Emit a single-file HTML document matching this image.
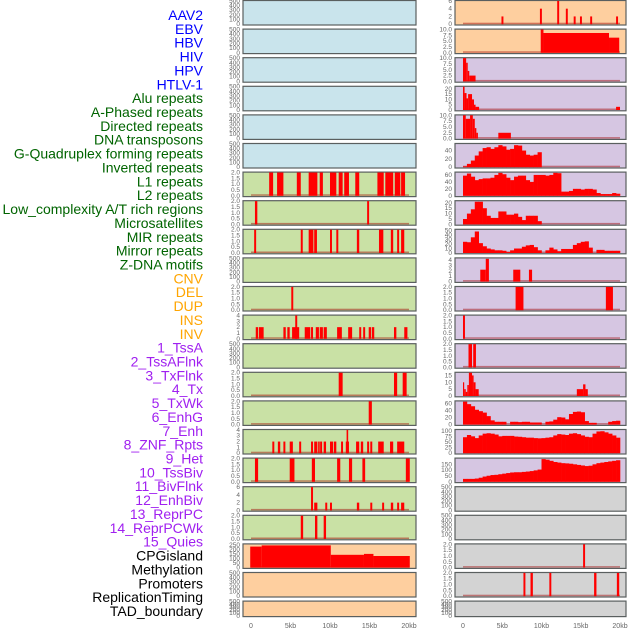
<!DOCTYPE html>
<html><head><meta charset="utf-8"><style>
html,body{margin:0;padding:0;background:#fff;}
svg{display:block;font-family:"Liberation Sans",sans-serif;}
</style></head><body>
<svg id="chart" width="630" height="630" viewBox="0 0 630 630"></svg>
<script>
// ---- labels ----
const trackLabels = ["AAV2","EBV","HBV","HIV","HPV","HTLV-1","Alu repeats","A-Phased repeats","Directed repeats","DNA transposons","G-Quadruplex forming repeats","Inverted repeats","L1 repeats","L2 repeats","Low_complexity A/T rich regions","Microsatellites","MIR repeats","Mirror repeats","Z-DNA motifs","CNV","DEL","DUP","INS","INV","1_TssA","2_TssAFlnk","3_TxFlnk","4_Tx","5_TxWk","6_EnhG","7_Enh","8_ZNF_Rpts","9_Het","10_TssBiv","11_BivFlnk","12_EnhBiv","13_ReprPC","14_ReprPCWk","15_Quies","CPGisland","Methylation","Promoters","ReplicationTiming","TAD_boundary"];
const labelGroups = [0,0,0,0,0,0,1,1,1,1,1,1,1,1,1,1,1,1,1,2,2,2,2,2,3,3,3,3,3,3,3,3,3,3,3,3,3,3,3,4,4,4,4,4];
const xTickLabels = ["0","5kb","10kb","15kb","20kb"];
const xTickValues = [0,5,10,15,20];

// ---- left column data (kb start, kb end, value) ----
const l6Segs = [[2.3,2.8,2],[3.3,4.1,2],[5.8,6.3,2],[7.3,8.4,2],[8.7,9.1,2],[10.0,10.8,2],[11.1,11.6,2],[11.8,12.4,2],[13.2,13.7,2],[16.0,16.8,2],[17.0,18.0,2],[18.2,18.9,2],[19.0,19.5,2]];
const l7Segs = [[0.5,0.8,2],[14.7,14.95,2]];
const l8Segs = [[0.4,0.65,2],[6.3,6.55,2],[7.3,7.9,2],[8.0,8.35,2],[10.0,10.25,2],[10.8,11.05,2],[13.4,13.7,2],[16.2,16.75,2],[17.7,18.0,2],[18.5,18.75,2],[19.0,19.4,2]];
const l10Segs = [[5.1,5.35,2]];
const l11Segs = [[0.6,0.9,2],[1.0,1.6,2],[4.1,4.4,2],[4.6,4.9,2],[5.2,6.1,2],[5.6,5.85,4],[6.8,7.5,2],[7.6,7.85,2],[8.2,8.6,2],[8.7,9.1,2],[9.2,9.6,2],[10.9,11.5,2],[12.3,12.8,2],[13.7,13.95,2],[14.2,14.45,2],[14.9,15.2,2],[15.3,15.6,2],[18.1,18.4,2],[19.4,19.8,2]];
const l13Segs = [[11.1,11.6,2],[18.1,18.5,2],[19.2,19.7,2]];
const l14Segs = [[14.9,15.3,2]];
const l15Segs = [[2.7,2.95,2],[3.4,3.7,2],[4.1,4.35,2],[4.9,5.3,2],[6.1,6.35,2],[7.6,7.85,2],[8.0,8.4,2],[8.5,8.7,2],[8.75,9.0,2],[9.2,9.5,2],[10.0,10.4,2],[10.5,10.8,2],[11.4,11.65,2],[12.0,12.4,2],[12.1,12.3,4],[13.3,13.7,2],[13.9,14.2,2],[14.7,14.95,2],[15.1,15.35,2],[16.1,16.8,2],[17.6,18.0,2],[18.5,19.4,2]];
const l16Segs = [[0.5,0.9,2],[4.9,5.5,2],[7.7,8.1,2],[10.9,11.3,2],[12.4,12.8,2],[14.1,14.45,2],[19.6,20.1,2]];
const l17Segs = [[7.6,7.85,6],[8.0,8.4,2],[9.4,9.65,2],[10.0,10.25,2],[13.4,13.7,2],[15.1,15.35,2],[16.6,16.85,2],[17.7,18.0,2],[18.5,18.75,2],[19.0,19.4,2]];
const l18Segs = [[6.3,6.6,2],[8.1,8.4,2],[9.2,9.5,2]];
const l19Segs = [[-0.1,1.35,230],[1.35,10.1,243],[10.1,14.3,140],[14.3,15.5,150],[15.5,20.1,127]];

// ---- right column data ----
const r0Segs = [[4.9,5.15,2],[9.8,10.05,4],[12.0,12.25,6],[13.1,13.35,4],[14.1,14.35,2],[14.9,15.15,2],[16.2,16.45,2],[19.5,19.75,2]];
const r1Segs = [[9.9,10.25,10],[10.25,18.6,8.5],[18.6,19.9,6.5]];
const r2Segs = [[0,0.4,10],[0.4,0.6,8],[0.6,0.8,4.5],[0.8,1.6,2.5]];
const r3Segs = [[0,0.2,22],[0.2,0.45,16],[0.45,0.65,11],[0.65,1.15,15],[1.15,1.4,10],[1.4,1.6,5],[1.6,2.05,3],[19.5,20,3]];
const r4Segs = [[0,0.35,10],[0.35,0.9,8.5],[0.9,1.25,10],[1.25,1.5,8.5],[1.5,1.7,4.5],[1.7,1.9,2.5],[4.5,6.1,2.5]];
const r5Bins = [2,8,16,28,38,46,48,44,48,53,50,42,44,53,52,40,30,28,30,36];
const r6Bins = [58,64,55,45,48,50,50,52,60,66,62,52,45,55,58,58,45,40,60,60,60,58,60,66,65,12,12,14,20,20,18,20,20,18,8,5,5,5,8,6];
const r7Bins = [5,10,14,21,21,15,8,6,6,12,12,9,9,10,7,4,8,8,8,3];
const r8Bins = [25,24,35,48,22,15,10,8,6,6,5,2,6,10,10,14,17,18,13,6,0,6,12,8,4,9,9,9,18,22,25,26,12,0,7,7,5,5,5,5];
const r9Segs = [[2.2,2.9,2.2],[2.9,3.3,4.2],[6.4,7.3,2.2],[8.4,8.8,2.2]];
const r10Segs = [[6.7,7.7,2],[18.2,19.1,2]];
const r11Segs = [[0,0.25,2]];
const r12Segs = [[0.7,1.15,2],[1.3,1.65,2]];
const r13Segs = [[0,0.15,10],[0.15,0.35,5],[0.35,0.55,3],[0.55,0.75,8],[0.75,1.15,17],[1.15,1.35,15],[1.35,1.6,10],[1.6,2.0,5],[14.5,15.3,5],[15.3,15.6,8.5],[15.6,15.9,5]];
const r14Bins = [65,58,52,42,38,34,24,12,8,8,8,0,8,8,7,8,8,6,6,6,0,8,9,14,21,20,15,30,36,37,35,10,5,5,0,0,0,8,10,11];
const r15Bins = [72,82,76,68,80,88,90,88,84,76,78,78,78,75,74,72,70,70,68,67,68,70,72,80,86,84,82,88,90,86,80,74,72,88,98,99,94,88,80,70];
const r16Bins = [25,25,25,28,35,45,52,58,60,65,70,75,80,82,82,85,88,92,98,105,195,190,180,170,165,160,158,155,150,145,140,135,138,150,160,165,170,175,180,185];
const r19Segs = [[15.3,15.55,2]];
const r20Segs = [[7.7,7.95,2],[8.6,8.9,2],[11.0,11.25,2],[16.7,17.0,2],[19.6,19.9,2]];

// tick sets
const t500=[0,100,200,300,400,500], t2=[0,0.5,1,1.5,2], t4=[0,1,2,3,4], t6=[0,2,4,6], t10=[0,2.5,5,7.5,10], t20=[0,5,10,15,20];

const BG={b:"#c9e4ec",g:"#c9e1a5",o:"#fecf9f",p:"#d6c6e2",k:"#d3d3d3"};
// [bg, ymax, ticks, decimals, segs, bins]
const leftPanels=[
 ["b",500,t500,0],["b",500,t500,0],["b",500,t500,0],["b",500,t500,0],["b",500,t500,0],["b",500,t500,0],
 ["g",2,t2,1,l6Segs],["g",2,t2,1,l7Segs],["g",2,t2,1,l8Segs],["g",500,t500,0],["g",2,t2,1,l10Segs],
 ["g",4,t4,0,l11Segs],["g",500,t500,0],["g",2,t2,1,l13Segs],["g",2,t2,1,l14Segs],["g",4,t4,0,l15Segs],
 ["g",2,t2,1,l16Segs],["g",6,t6,0,l17Segs],["g",2,t2,1,l18Segs],["o",255,[0,50,100,150,200,250],0,l19Segs],
 ["o",500,t500,0],["o",500,t500,0]];
const rightPanels=[
 ["o",6,t6,0,r0Segs],["o",10,t10,1,r1Segs],["p",10,t10,1,r2Segs],["p",22,t20,0,r3Segs],["p",10,t10,1,r4Segs],
 ["p",56,[0,20,40],0,null,r5Bins],["p",67,[0,20,40,60],0,null,r6Bins],["p",21.6,t20,0,null,r7Bins],
 ["p",52,[0,10,20,30,40,50],0,null,r8Bins],["p",4.3,t4,0,r9Segs],["p",2,t2,1,r10Segs],["p",2,t2,1,r11Segs],
 ["p",2,t2,1,r12Segs],["p",17,[0,5,10,15],0,r13Segs],["p",66,[0,20,40,60],0,null,r14Bins],
 ["p",105,[0,25,50,75,100],0,null,r15Bins],["p",200,[0,50,100,150],0,null,r16Bins],
 ["k",500,t500,0],["k",500,t500,0],["k",2,t2,1,r19Segs],["k",2,t2,1,r20Segs],["k",500,t500,0]];

const NS="http://www.w3.org/2000/svg";
const svg=document.getElementById("chart");
function mk(tag,attrs,parent){const e=document.createElementNS(NS,tag);for(const k in attrs)e.setAttribute(k,attrs[k]);(parent||svg).appendChild(e);return e;}

// left labels
const LCOL=["#0000ff","#006400","#ffa500","#a020f0","#000000"];
trackLabels.forEach((t,i)=>{
  const e=mk("text",{x:203,y:15+i*13.86+5,"text-anchor":"end","font-size":"14",fill:LCOL[labelGroups[i]]});
  e.textContent=t;
  
  
});

function drawColumn(panels,px,pw,x0,kbpx,side){
  const xs=kb=>x0+kb*kbpx;
  panels.forEach((p,i)=>{
    const top=i*28.6+0.5, h=(i===21)?15.5:24.5;
    const g=mk("g",{});
    
    
    mk("rect",{x:px,y:top,width:pw,height:h,fill:BG[p[0]],stroke:"#5a5f5f","stroke-width":1.2},g);
    const ymax=p[1], y0=top+h-0.8, ph=h-1.2;
    const ys=v=>y0-Math.min(v,ymax)/ymax*ph;
    p[2].forEach(t=>{
      const tx=mk("text",{x:px-3,y:ys(t)+2,"text-anchor":"end","font-size":"6.5",fill:"#666"},g);
      tx.textContent=p[3]?t.toFixed(1):String(t);
      
      
    });
    const hasData=p[4]||p[5];
    if(hasData){
      mk("rect",{x:xs(0),y:y0-1.5,width:xs(20)-xs(0),height:1.5,fill:"rgba(160,0,0,0.45)"},g);
    }
    if(p[4]) p[4].forEach(s=>{
      const r=mk("rect",{x:xs(s[0]),y:ys(s[2]),width:Math.max(1,xs(s[1])-xs(s[0])),height:y0-ys(s[2]),fill:"#ff0000"},g);
      
      
    });
    if(p[5]) p[5].forEach((v,j)=>{
      if(v<=0) return;
      const r=mk("rect",{x:xs(j*0.5),y:ys(v),width:xs(0.5)-xs(0)+0.3,height:y0-ys(v),fill:"#ff0000"},g);
      
      
    });
  });
  xTickValues.forEach((v,k)=>{
    const t=mk("text",{x:xs(v),y:628,"text-anchor":"middle","font-size":"7",fill:"#666"});
    t.textContent=xTickLabels[k];
    
    
  });
}
drawColumn(leftPanels,243,173,251,7.9,'left');
drawColumn(rightPanels,455,171,463,7.85,'right');
</script>
</body></html>
